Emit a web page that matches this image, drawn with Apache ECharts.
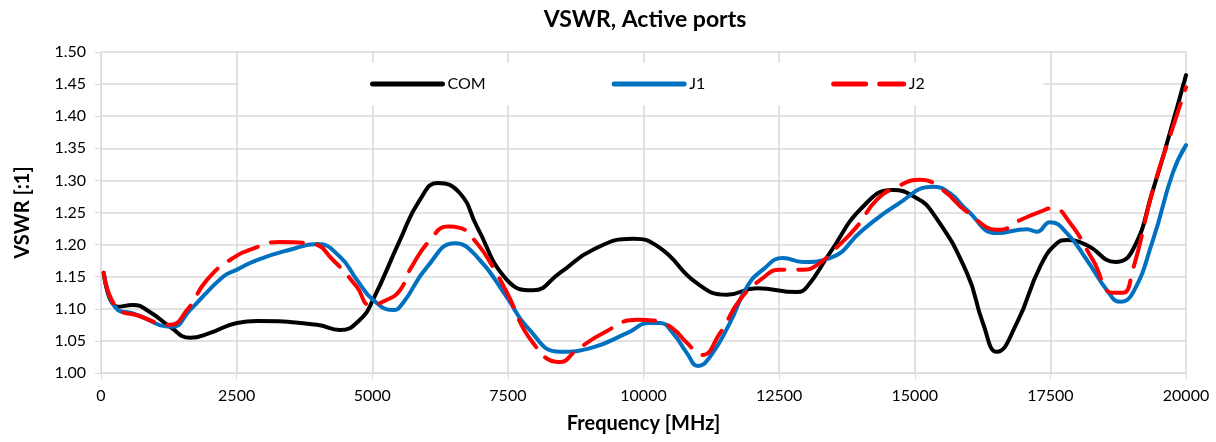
<!DOCTYPE html>
<html>
<head>
<meta charset="utf-8">
<script src="https://cdn.jsdelivr.net/npm/echarts@6/dist/echarts.min.js"></script>
<style>
html,body{margin:0;padding:0;background:#fff;}
#c{width:1216px;height:442px;}
</style>
</head>
<body>
<div id="c"></div>
<script>
var xTicks = [0, 2500, 5000, 7500, 10000, 12500, 15000, 17500, 20000];
var yTicks = [1.00, 1.05, 1.10, 1.15, 1.20, 1.25, 1.30, 1.35, 1.40, 1.45, 1.50];
var seriesNames = ['COM', 'J1', 'J2'];

var freqCOM = [50, 313, 590, 900, 1272, 1640, 2000, 2507, 2875, 3981, 4405, 4773, 5013, 5511, 5880, 6211, 6616, 6930, 7483, 7962, 8459, 9068, 9805, 10302, 10984, 11537, 12090, 12827, 13012, 13436, 14044, 14597, 15000, 15334, 15961, 16256, 16514, 16883, 17307, 17620, 17804, 18173, 18700, 19021, 19390, 19703, 20000];
var vswrCOM = [1.156, 1.103, 1.106, 1.095, 1.072, 1.055, 1.062, 1.078, 1.081, 1.075, 1.067, 1.083, 1.114, 1.207, 1.270, 1.296, 1.280, 1.228, 1.145, 1.129, 1.156, 1.192, 1.209, 1.195, 1.140, 1.122, 1.132, 1.126, 1.134, 1.187, 1.259, 1.285, 1.274, 1.249, 1.156, 1.078, 1.033, 1.078, 1.165, 1.202, 1.207, 1.199, 1.173, 1.192, 1.285, 1.374, 1.464];

var freqJ1 = [50, 313, 590, 1309, 1640, 2249, 2507, 2875, 3484, 3981, 4405, 4718, 5013, 5382, 5566, 6009, 6525, 6930, 7483, 7851, 8459, 9068, 9694, 10118, 10302, 10542, 10800, 11003, 11224, 11593, 11906, 12201, 12570, 12938, 13436, 14044, 14671, 15334, 15647, 15961, 16514, 17066, 17251, 17491, 17804, 18173, 18542, 18781, 19021, 19390, 19758, 20000];
var vswrJ1 = [1.156, 1.098, 1.093, 1.072, 1.098, 1.150, 1.161, 1.176, 1.192, 1.201, 1.181, 1.145, 1.114, 1.098, 1.109, 1.165, 1.202, 1.181, 1.118, 1.072, 1.033, 1.040, 1.062, 1.078, 1.078, 1.062, 1.031, 1.011, 1.025, 1.078, 1.134, 1.161, 1.179, 1.173, 1.179, 1.223, 1.262, 1.290, 1.280, 1.254, 1.218, 1.224, 1.220, 1.235, 1.218, 1.176, 1.129, 1.111, 1.125, 1.207, 1.312, 1.355];

var freqJ2 = [50, 295, 664, 1272, 1585, 1954, 2378, 2875, 3299, 3907, 4276, 4718, 4958, 5271, 5511, 5695, 6064, 6396, 6616, 6930, 7225, 7483, 7962, 8459, 8773, 9252, 9879, 10247, 10542, 10800, 11077, 11409, 11777, 12201, 12515, 12938, 13196, 13565, 13933, 14302, 14671, 15094, 15518, 15961, 16569, 16937, 17307, 17546, 17860, 18284, 18652, 18836, 19021, 19390, 19758, 20000];
var vswrJ2 = [1.156, 1.101, 1.090, 1.075, 1.098, 1.145, 1.176, 1.196, 1.204, 1.201, 1.176, 1.134, 1.106, 1.114, 1.129, 1.161, 1.207, 1.228, 1.226, 1.202, 1.165, 1.125, 1.047, 1.017, 1.036, 1.062, 1.083, 1.081, 1.069, 1.047, 1.028, 1.062, 1.114, 1.148, 1.161, 1.161, 1.168, 1.196, 1.228, 1.270, 1.290, 1.301, 1.285, 1.251, 1.223, 1.238, 1.251, 1.257, 1.234, 1.176, 1.125, 1.125, 1.161, 1.285, 1.383, 1.445];

function pairs(xs, ys) { return xs.map(function (x, i) { return [x, ys[i]]; }); }

var FONT = 'Lato, "Noto Sans", sans-serif';
var GRID = '#D9D9D9';
var chart = echarts.init(document.getElementById('c'), null, {renderer: 'canvas'});

chart.setOption({
  animation: false,
  backgroundColor: '#ffffff',
  textStyle: {fontFamily: FONT},
  title: {
    text: 'VSWR, Active ports',
    left: 640,
    textAlign: 'center',
    top: 3,
    textStyle: {fontFamily: FONT, fontSize: 23, fontWeight: 'bold', color: '#000'}
  },
  legend: {
    data: seriesNames,
    left: 238,
    top: 63,
    itemWidth: 70,
    itemHeight: 14,
    itemGap: 126,
    padding: [13, 119, 13, 132],
    backgroundColor: '#ffffff',
    itemStyle: {opacity: 0},
    lineStyle: {width: 5, cap: 'round'},
    textStyle: {fontFamily: FONT, fontSize: 16, color: '#000'}
  },
  grid: {left: 101, right: 30, top: 52, bottom: 69, containLabel: false},
  xAxis: {
    type: 'value',
    min: xTicks[0],
    max: xTicks[xTicks.length - 1],
    interval: xTicks[1] - xTicks[0],
    name: 'Frequency [MHz]',
    nameLocation: 'middle',
    nameGap: 41,
    nameTextStyle: {fontFamily: FONT, fontSize: 20, fontWeight: 'bold', color: '#000'},
    axisLine: {show: true, lineStyle: {color: GRID, width: 1}},
    axisTick: {show: true, length: 6, lineStyle: {color: GRID}},
    axisLabel: {fontFamily: FONT, fontSize: 16, color: '#000', margin: 15,
      formatter: function (v) { return String(v); }},
    splitLine: {show: true, lineStyle: {color: GRID, width: 1.5}}
  },
  yAxis: {
    type: 'value',
    min: yTicks[0],
    max: yTicks[yTicks.length - 1],
    interval: 0.05,
    name: 'VSWR [:1]',
    nameLocation: 'middle',
    nameRotate: 90,
    nameGap: 68,
    nameTextStyle: {fontFamily: FONT, fontSize: 20, fontWeight: 'bold', color: '#000'},
    axisLine: {show: true, lineStyle: {color: GRID, width: 1}},
    axisTick: {show: true, length: 6, lineStyle: {color: GRID}},
    axisLabel: {fontFamily: FONT, fontSize: 16, color: '#000', margin: 15,
      formatter: function (v) { return v.toFixed(2); }},
    splitLine: {show: true, lineStyle: {color: GRID, width: 1.5}}
  },
  series: [
    {
      name: seriesNames[0], type: 'line', smooth: 0.5, showSymbol: false, symbol: 'none',
      data: pairs(freqCOM, vswrCOM),
      lineStyle: {color: '#000000', width: 4, cap: 'round', join: 'round'},
      itemStyle: {color: '#000000'}, z: 3
    },
    {
      name: seriesNames[1], type: 'line', smooth: 0.5, showSymbol: false, symbol: 'none',
      data: pairs(freqJ1, vswrJ1),
      lineStyle: {color: '#0070C0', width: 4, cap: 'round', join: 'round'},
      itemStyle: {color: '#0070C0'}, z: 4
    },
    {
      name: seriesNames[2], type: 'line', smooth: 0.5, showSymbol: false, symbol: 'none',
      data: pairs(freqJ2, vswrJ2),
      lineStyle: {color: '#FF0000', width: 4, type: [32, 14], cap: 'round', join: 'round'},
      itemStyle: {color: '#FF0000'}, z: 5
    }
  ]
});
</script>
</body>
</html>
